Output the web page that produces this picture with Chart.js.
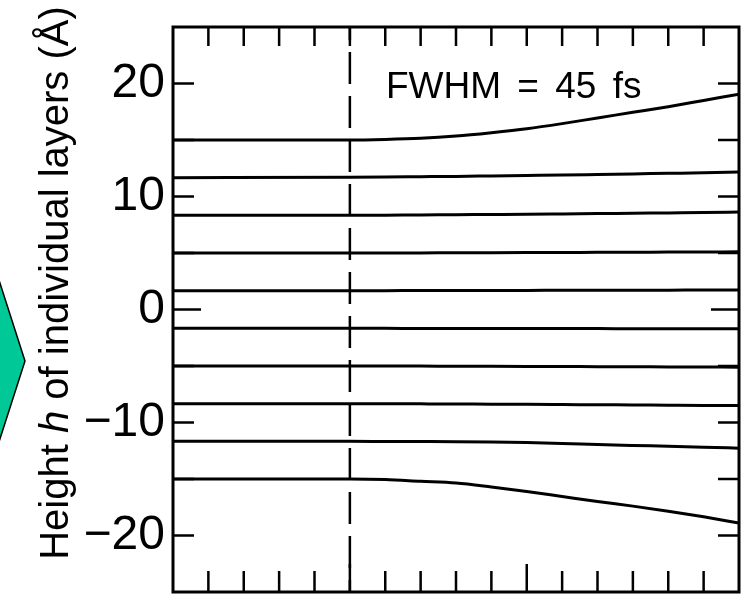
<!DOCTYPE html>
<html>
<head>
<meta charset="utf-8">
<script src="https://cdn.jsdelivr.net/npm/chart.js@4"></script>
<style>
  body { margin: 0; background: #fff; }
  #wrap { width: 748px; height: 595px; }
</style>
</head>
<body>
<div id="wrap"><canvas id="layersChart" width="748" height="595"></canvas></div>
<script>
// time axis (fs) and layer heights (Å)
var times = [-100, 0, 20, 40, 60, 80, 100, 120, 140, 160, 180, 200, 220];

var layer1  = [15.0, 15.0, 15.05, 15.15, 15.35, 15.65, 16.0, 16.45, 16.95, 17.45, 17.95, 18.5, 19.05];
var layer2  = [11.67, 11.7, 11.72, 11.75, 11.78, 11.82, 11.86, 11.9, 11.95, 12.0, 12.05, 12.1, 12.17];
var layer3  = [8.33, 8.33, 8.35, 8.37, 8.39, 8.41, 8.43, 8.46, 8.49, 8.52, 8.55, 8.58, 8.62];
var layer4  = [5.0, 5.0, 5.0, 5.01, 5.02, 5.03, 5.04, 5.05, 5.06, 5.07, 5.08, 5.09, 5.1];
var layer5  = [1.67, 1.67, 1.67, 1.68, 1.68, 1.69, 1.69, 1.7, 1.7, 1.71, 1.71, 1.72, 1.72];
var layer6  = [-1.67, -1.67, -1.67, -1.68, -1.68, -1.68, -1.69, -1.69, -1.69, -1.7, -1.7, -1.7, -1.7];
var layer7  = [-5.0, -5.0, -5.0, -5.01, -5.02, -5.03, -5.04, -5.05, -5.06, -5.07, -5.08, -5.09, -5.1];
var layer8  = [-8.33, -8.33, -8.34, -8.35, -8.36, -8.38, -8.39, -8.41, -8.43, -8.45, -8.47, -8.49, -8.5];
var layer9  = [-11.67, -11.67, -11.68, -11.69, -11.7, -11.73, -11.78, -11.85, -11.95, -12.03, -12.1, -12.18, -12.27];
var layer10 = [-15.0, -15.0, -15.05, -15.2, -15.35, -15.7, -16.1, -16.55, -17.0, -17.4, -17.85, -18.35, -18.9];

var layers = [layer1, layer2, layer3, layer4, layer5, layer6, layer7, layer8, layer9, layer10];

var pulseTime = 0;            // dashed line
var yTickValues = [-20, -10, 0, 10, 20];
var note = 'FWHM = 45 fs';

var FONT = '"Liberation Sans", Arial, Helvetica, sans-serif';

var datasets = layers.map(function(vals) {
    return {
        data: vals.map(function(v, i) { return { x: times[i], y: v }; }),
        borderColor: '#000',
        borderWidth: 3,
        pointRadius: 0,
        cubicInterpolationMode: 'monotone',
        fill: false
    };
});

datasets.push({
    data: [{ x: pulseTime, y: 25 }, { x: pulseTime, y: -25 }],
    borderColor: '#000',
    borderWidth: 2.5,
    borderDash: [32, 12],
    borderDashOffset: 19,
    pointRadius: 0,
    fill: false
});

// frame, inward ticks, green arrow, axis title and note
var decorations = {
    id: 'decorations',
    afterDatasetsDraw: function(chart) {
        var ctx = chart.ctx;
        var a = chart.chartArea;
        var xs = chart.scales.x, ys = chart.scales.y;
        ctx.save();
        ctx.strokeStyle = '#000';
        ctx.lineCap = 'butt';

        // ticks
        ctx.lineWidth = 2.5;
        ctx.beginPath();
        ys.ticks.forEach(function(t) {
            var py = ys.getPixelForValue(t.value);
            if (py <= a.top + 2 || py >= a.bottom - 2) return;
            var len = t.value === 0 ? 28 : 21;
            ctx.moveTo(a.left, py); ctx.lineTo(a.left + len, py);
            ctx.moveTo(a.right, py); ctx.lineTo(a.right - len, py);
        });
        xs.ticks.forEach(function(t) {
            var px = xs.getPixelForValue(t.value);
            if (px <= a.left + 2 || px >= a.right - 2) return;
            var lenB = (t.value === 0 || t.value === 100) ? 28 : 21;
            ctx.moveTo(px, a.top); ctx.lineTo(px, a.top + 19);
            ctx.moveTo(px, a.bottom); ctx.lineTo(px, a.bottom - lenB);
        });
        ctx.stroke();

        // frame
        ctx.lineWidth = 3;
        ctx.strokeRect(a.left, a.top, a.right - a.left, a.bottom - a.top);

        // green arrow at the left edge
        ctx.beginPath();
        ctx.moveTo(-2, 277);
        ctx.lineTo(25, 361);
        ctx.lineTo(-2, 445);
        ctx.closePath();
        ctx.fillStyle = 'rgb(0, 200, 150)';
        ctx.fill();
        ctx.lineWidth = 1.5;
        ctx.stroke();

        // note
        ctx.fillStyle = '#000';
        ctx.font = '37px ' + FONT;
        ctx.textBaseline = 'alphabetic';
        ctx.textAlign = 'left';
        ctx.wordSpacing = '6px';
        ctx.fillText(note, 386, 98);
        ctx.wordSpacing = '0px';

        // rotated axis title with italic h
        var parts = [
            { t: 'Height ', f: '40px ' + FONT },
            { t: 'h', f: 'italic 40px ' + FONT },
            { t: ' of individual layers (\u00C5)', f: '40px ' + FONT }
        ];
        var total = 0;
        parts.forEach(function(p) { ctx.font = p.f; p.w = ctx.measureText(p.t).width; total += p.w; });
        ctx.translate(68, 283);
        ctx.rotate(-Math.PI / 2);
        var x = -total / 2;
        parts.forEach(function(p) { ctx.font = p.f; ctx.fillText(p.t, x, 0); x += p.w; });
        ctx.restore();
    }
};

var ctx = document.getElementById('layersChart').getContext('2d');
var layersChart = new Chart(ctx, {
    type: 'line',
    data: { datasets: datasets },
    options: {
        responsive: false,
        animation: false,
        layout: { padding: { top: 27, right: 9, bottom: 3, left: 0 } },
        plugins: { legend: { display: false }, tooltip: { enabled: false } },
        scales: {
            x: {
                type: 'linear',
                min: -100, max: 220,
                display: false,
                ticks: { stepSize: 20 }
            },
            y: {
                type: 'linear',
                min: -25, max: 25,
                afterFit: function(scale) {
                    scale.width = 173;
                    scale.paddingTop = 0;
                    scale.paddingBottom = 0;
                },
                grid: { display: false, drawTicks: false },
                border: { display: false },
                ticks: {
                    stepSize: 5,
                    autoSkip: false,
                    padding: 8,
                    color: '#000',
                    font: { family: FONT, size: 48 },
                    callback: function(v) {
                        if (yTickValues.indexOf(v) < 0) return '';
                        return v < 0 ? '\u2212' + Math.abs(v) : String(v);
                    }
                }
            }
        }
    },
    plugins: [decorations]
});
</script>
</body>
</html>
